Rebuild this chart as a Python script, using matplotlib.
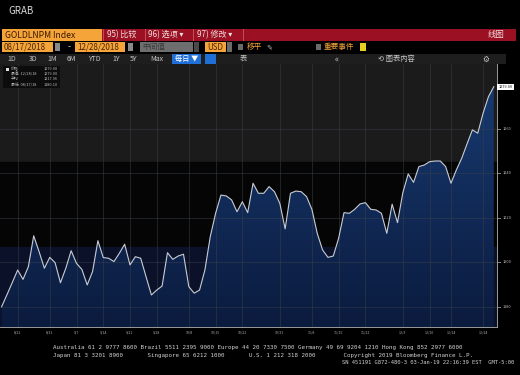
import numpy as np
import pandas as pd
import matplotlib
matplotlib.use("Agg")
import matplotlib.pyplot as plt
from matplotlib.patches import Rectangle, Polygon

plt.rcParams['font.family'] = ['Noto Sans CJK SC', 'DejaVu Sans']

# ---------------- data ----------------
holidays = ['2018-08-27', '2018-12-25', '2018-12-26']
dates = [d for d in pd.bdate_range('2018-08-17', '2018-12-28') if d.strftime('%Y-%m-%d') not in holidays]
prices = [1180.1, 1185.5, 1191.0, 1196.6, 1192.4, 1198.1, 1212.0, 1204.9, 1197.4, 1202.3,
          1199.9, 1190.9, 1197.4, 1205.3, 1199.6, 1196.9, 1189.9, 1195.9, 1209.8, 1202.2,
          1201.9, 1200.4, 1204.1, 1208.2, 1198.9, 1202.6, 1201.9, 1193.6, 1185.4, 1187.6,
          1189.4, 1204.4, 1201.4, 1202.9, 1203.7, 1189.1, 1186.2, 1187.6, 1196.6, 1211.6,
          1222.1, 1230.3, 1229.9, 1228.1, 1222.8, 1227.3, 1222.4, 1235.6, 1231.1, 1231.1,
          1234.1, 1231.8, 1226.6, 1215.1, 1231.1, 1232.1, 1231.8, 1229.6, 1223.9, 1213.1,
          1205.6, 1202.3, 1202.9, 1210.9, 1222.4, 1222.1, 1223.9, 1226.3, 1226.9, 1223.9,
          1223.6, 1222.1, 1213.1, 1226.2, 1217.9, 1231.4, 1239.8, 1236.0, 1243.1, 1243.8,
          1245.3, 1245.6, 1245.6, 1243.1, 1235.6, 1241.6, 1246.8, 1253.3, 1259.6, 1258.1,
          1267.1, 1274.5, 1279.0]
y_ticks = [1180, 1200, 1220, 1240, 1260]
x_tick_idx = [3, 9, 14, 19, 24, 29, 35, 40, 45, 52, 58, 63, 68, 75, 80, 84, 90]
last_label = "1279.00"

W, H = 520, 375
fig = plt.figure(figsize=(W / 100, H / 100), dpi=100, facecolor='black')


def fx(x):
    return x / W


def fy(y):
    return 1 - y / H


def rect(x0, y0, x1, y1, color, **kw):
    fig.patches.append(Rectangle((fx(x0), fy(y1)), (x1 - x0) / W, (y1 - y0) / H,
                                 transform=fig.transFigure, facecolor=color,
                                 edgecolor=kw.pop('ec', 'none'), lw=kw.pop('lw', 0), **kw))


def txt(x, y, s, size=5.5, color='white', ha='left', va='center', **kw):
    fig.text(fx(x), fy(y), s, fontsize=size, color=color, ha=ha, va=va, **kw)


# ---------------- header ----------------
txt(8, 11, "GRAB", size=7, color='#d8d8d8')

# row 1: red toolbar
rect(2, 29, 516, 41, '#9b1022')
rect(2, 29, 102, 41, '#f5a43a')
txt(5, 35, "GOLDLNPM Index", size=6.2, color='#3a1a00')
for xs in (103, 145, 193, 243):
    rect(xs, 29, xs + 0.8, 41, '#c84a55')
txt(107, 35, "95) 比较", size=5.8, color='#f0e0e0')
txt(148, 35, "96) 选项 ▾", size=5.8, color='#f0e0e0')
txt(197, 35, "97) 修改 ▾", size=5.8, color='#f0e0e0')
txt(488, 35, "线图", size=6, color='#f0e0e0')

# row 2
rect(2, 42, 53, 52, '#f5a43a')
txt(4, 47, "08/17/2018", size=5.8, color='#4a2500')
rect(55, 43.5, 60, 50.5, '#8a8a8a')
txt(68, 47, "-", size=6, color='#dddddd')
rect(75, 42, 125, 52, '#f5a43a')
txt(77, 47, "12/28/2018", size=5.8, color='#4a2500')
rect(128, 43.5, 133, 50.5, '#8a8a8a')
rect(140, 42, 193, 52, '#6e6e6e')
txt(142, 47, "中间值", size=5.5, color='#3a3a3a')
rect(194, 42, 199, 52, '#4a4a4a')
rect(205, 42, 226, 52, '#f5a43a')
txt(207, 47, "USD", size=5.8, color='#4a2500')
rect(227, 42, 232, 52, '#6a6a6a')
rect(238, 44, 243, 50, '#6a6a6a')
txt(247, 47, "移平", size=5.5, color='#f5a43a')
txt(266, 47, "✎", size=5, color='#bbbbbb', family=['DejaVu Sans'])
rect(316, 44, 321, 50, '#6a6a6a')
txt(324, 47, "重要事件", size=5.5, color='#f5a43a')
rect(360, 43, 366, 51, '#e8d020')

# row 3
rect(0, 54, 506, 64, '#1e1e1e')
for xp, s in [(7, "1D"), (29, "3D"), (47, "1M"), (67, "6M"), (88, "YTD"),
              (112, "1Y"), (130, "5Y"), (150, "Max")]:
    txt(xp, 59, s, size=5, color='#c8c8c8')
rect(172, 54.5, 201, 63.5, '#1f6fd6')
txt(175, 59, "每日 ▼", size=5.2, color='white')
rect(205, 54.5, 216, 63.5, '#1f6fd6')
txt(240, 59, "表", size=5.2, color='#c8c8c8')
txt(335, 59, "«", size=6, color='#c8c8c8')
txt(378, 59, "⟲ 图表内容", size=5.2, color='#c8c8c8')
txt(482, 59, "⚙", size=5.5, color='#c8c8c8', family=['DejaVu Sans'])

# ---------------- chart ----------------
ax = fig.add_axes([fx(0), fy(327), 497 / W, (327 - 64) / H])
ax.set_facecolor('#060606')
x = np.arange(len(prices))
ymin, ymax = 1171.0, 1289.2
ax.set_xlim(-0.3, len(prices) - 0.4)
ax.set_ylim(ymin, ymax)

# background bands
ax.axhspan(1245.2, ymax, color='#1b1b1b', zorder=0)
ax.axhspan(1207.0, 1245.2, color='#050505', zorder=0)
ax.axhspan(ymin, 1207.0, color='#0a1128', zorder=0)

# gradient fill under line
grad = np.linspace(0, 1, 256).reshape(-1, 1)
cmap = matplotlib.colors.LinearSegmentedColormap.from_list('g', ['#0b1b3e', '#173a70'])
im = ax.imshow(grad, extent=[-0.3, len(prices) - 0.4, ymin, 1282], origin='lower',
               aspect='auto', cmap=cmap, zorder=1)
verts = [(x[0], ymin)] + list(zip(x, prices)) + [(x[-1], ymin)]
poly = Polygon(verts, closed=True, transform=ax.transData, facecolor='none', edgecolor='none')
ax.add_patch(poly)
im.set_clip_path(poly)

ax.plot(x, prices, color='#c9ccd4', lw=0.8, zorder=3)

# grid
for yt in y_ticks:
    ax.axhline(yt, color='#3a3f4a', lw=0.5, zorder=2, alpha=0.7)
for xi in x_tick_idx:
    ax.axvline(xi, color='#3a3f4a', lw=0.5, zorder=2, alpha=0.7)

ax.set_xticks([])
ax.set_yticks([])
for sp in ['top', 'left']:
    ax.spines[sp].set_visible(False)
ax.spines['right'].set_color('#9a9a9a')
ax.spines['right'].set_linewidth(0.7)
ax.spines['bottom'].set_color('#9a9a9a')
ax.spines['bottom'].set_linewidth(0.7)

# right axis ticks / labels
for yt in y_ticks:
    ax.plot([1.0, 1.006], [yt, yt], transform=ax.get_yaxis_transform(), color='#9a9a9a',
            lw=0.6, clip_on=False)
    ax.text(1.012, yt, f"{yt}", transform=ax.get_yaxis_transform(), fontsize=2.8,
            color='#bbbbbb', va='center', ha='left', clip_on=False)
ax.text(1.003, prices[-1], last_label, transform=ax.get_yaxis_transform(), fontsize=2.8,
        color='#111111', va='center', ha='left', clip_on=False,
        bbox=dict(boxstyle='square,pad=0.3', fc='white', ec='none'))

# x tick labels
for xi in x_tick_idx:
    d = dates[min(xi, len(dates) - 1)]
    ax.text(xi, -0.015, f"{d.month}/{d.day}", transform=ax.get_xaxis_transform(),
            fontsize=2.6, color='#aaaaaa', ha='center', va='top', clip_on=False)

# legend box
rect(3, 66, 60, 88, '#0c0c0c')
rect(6, 67.5, 9, 70.5, '#e0e0e0')
leg = [("价格", "1279.00"), ("最高  12/28/18", "1279.00"), ("平均", "1217.96"),
       ("最低  08/17/18", "1180.10")]
for i, (a, b) in enumerate(leg):
    yy = 69 + i * 5.2
    txt(11, yy, a, size=2.8, color='#bbbbbb')
    txt(58, yy, b, size=2.8, color='#bbbbbb', ha='right')

# ---------------- footer ----------------
mono = ['DejaVu Sans Mono']
txt(53, 347, "Australia 61 2 9777 8600 Brazil 5511 2395 9000 Europe 44 20 7330 7500 "
             "Germany 49 69 9204 1210 Hong Kong 852 2977 6000", size=4.2, color='#d0d0d0',
    family=mono)
txt(53, 355, "Japan 81 3 3201 8900       Singapore 65 6212 1000       U.S. 1 212 318 2000"
             "        Copyright 2019 Bloomberg Finance L.P.", size=4.2, color='#d0d0d0',
    family=mono)
txt(514, 362, "SN 451191 G872-480-3 03-Jan-19 22:16:39 EST  GMT-5:00", size=4.0,
    color='#d0d0d0', family=mono, ha='right')

fig.savefig('out.png', dpi=100, facecolor='black')
